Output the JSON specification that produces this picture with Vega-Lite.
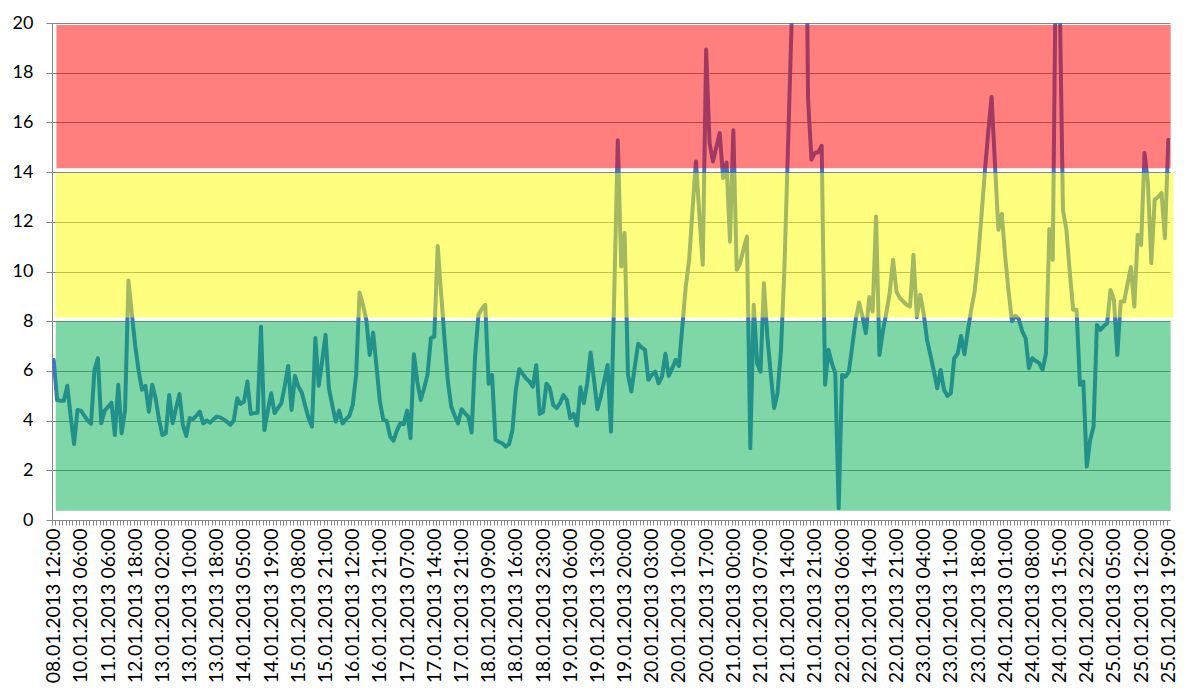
{
  "$schema": "https://vega.github.io/schema/vega-lite/v6.json",
  "width": 1118,
  "height": 497,
  "autosize": {"type": "none"},
  "padding": {"left": 52, "top": 23, "right": 23, "bottom": 175},
  "background": "white",
  "config": {"view": {"stroke": null}, "font": "Lato"},
  "datasets": {
    "series": [
      {"i":0,"v":6.44},{"i":1,"v":4.83},{"i":2,"v":4.8},{"i":3,"v":4.8},{"i":4,"v":5.4},{"i":5,"v":4.16},{"i":6,"v":3.06},{"i":7,"v":4.43},{"i":8,"v":4.4},{"i":9,"v":4.2},
      {"i":10,"v":4.0},{"i":11,"v":3.87},{"i":12,"v":6.04},{"i":13,"v":6.51},{"i":14,"v":3.89},{"i":15,"v":4.4},{"i":16,"v":4.55},{"i":17,"v":4.72},{"i":18,"v":3.42},{"i":19,"v":5.44},
      {"i":20,"v":3.49},{"i":21,"v":4.43},{"i":22,"v":9.64},{"i":23,"v":8.3},{"i":24,"v":7.0},{"i":25,"v":6.0},{"i":26,"v":5.24},{"i":27,"v":5.4},{"i":28,"v":4.36},{"i":29,"v":5.44},
      {"i":30,"v":4.9},{"i":31,"v":4.03},{"i":32,"v":3.42},{"i":33,"v":3.49},{"i":34,"v":5.03},{"i":35,"v":3.89},{"i":36,"v":4.5},{"i":37,"v":5.07},{"i":38,"v":3.83},{"i":39,"v":3.38},
      {"i":40,"v":4.1},{"i":41,"v":4.06},{"i":42,"v":4.2},{"i":43,"v":4.36},{"i":44,"v":3.89},{"i":45,"v":4.0},{"i":46,"v":3.92},{"i":47,"v":4.05},{"i":48,"v":4.16},{"i":49,"v":4.13},
      {"i":50,"v":4.05},{"i":51,"v":3.95},{"i":52,"v":3.83},{"i":53,"v":4.0},{"i":54,"v":4.9},{"i":55,"v":4.67},{"i":56,"v":4.76},{"i":57,"v":5.57},{"i":58,"v":4.27},{"i":59,"v":4.3},
      {"i":60,"v":4.32},{"i":61,"v":7.78},{"i":62,"v":3.62},{"i":63,"v":4.4},{"i":64,"v":5.1},{"i":65,"v":4.3},{"i":66,"v":4.5},{"i":67,"v":4.7},{"i":68,"v":5.4},{"i":69,"v":6.2},
      {"i":70,"v":4.43},{"i":71,"v":5.8},{"i":72,"v":5.37},{"i":73,"v":5.13},{"i":74,"v":4.6},{"i":75,"v":4.1},{"i":76,"v":3.76},{"i":77,"v":7.32},{"i":78,"v":5.4},{"i":79,"v":6.4},
      {"i":80,"v":7.45},{"i":81,"v":5.3},{"i":82,"v":4.6},{"i":83,"v":3.96},{"i":84,"v":4.4},{"i":85,"v":3.89},{"i":86,"v":4.05},{"i":87,"v":4.19},{"i":88,"v":4.63},{"i":89,"v":5.84},
      {"i":90,"v":9.15},{"i":91,"v":8.66},{"i":92,"v":8.05},{"i":93,"v":6.64},{"i":94,"v":7.54},{"i":95,"v":6.17},{"i":96,"v":4.76},{"i":97,"v":4.03},{"i":98,"v":3.99},{"i":99,"v":3.36},
      {"i":100,"v":3.19},{"i":101,"v":3.6},{"i":102,"v":3.89},{"i":103,"v":3.85},{"i":104,"v":4.4},{"i":105,"v":3.29},{"i":106,"v":6.67},{"i":107,"v":5.57},{"i":108,"v":4.83},{"i":109,"v":5.3},
      {"i":110,"v":5.84},{"i":111,"v":7.32},{"i":112,"v":7.38},{"i":113,"v":11.03},{"i":114,"v":9.13},{"i":115,"v":7.3},{"i":116,"v":5.57},{"i":117,"v":4.56},{"i":118,"v":4.2},{"i":119,"v":3.89},
      {"i":120,"v":4.46},{"i":121,"v":4.3},{"i":122,"v":4.16},{"i":123,"v":3.52},{"i":124,"v":6.58},{"i":125,"v":8.26},{"i":126,"v":8.5},{"i":127,"v":8.66},{"i":128,"v":5.48},{"i":129,"v":5.84},
      {"i":130,"v":3.22},{"i":131,"v":3.15},{"i":132,"v":3.09},{"i":133,"v":2.95},{"i":134,"v":3.05},{"i":135,"v":3.62},{"i":136,"v":5.24},{"i":137,"v":6.07},{"i":138,"v":5.88},{"i":139,"v":5.7},
      {"i":140,"v":5.57},{"i":141,"v":5.37},{"i":142,"v":6.23},{"i":143,"v":4.27},{"i":144,"v":4.35},{"i":145,"v":5.48},{"i":146,"v":5.3},{"i":147,"v":4.63},{"i":148,"v":4.5},{"i":149,"v":4.7},
      {"i":150,"v":5.03},{"i":151,"v":4.83},{"i":152,"v":4.1},{"i":153,"v":4.27},{"i":154,"v":3.8},{"i":155,"v":5.34},{"i":156,"v":4.7},{"i":157,"v":5.5},{"i":158,"v":6.74},{"i":159,"v":5.64},
      {"i":160,"v":4.46},{"i":161,"v":4.97},{"i":162,"v":5.6},{"i":163,"v":6.24},{"i":164,"v":3.56},{"i":165,"v":9.4},{"i":166,"v":15.28},{"i":167,"v":10.2},{"i":168,"v":11.55},{"i":169,"v":5.84},
      {"i":170,"v":5.17},{"i":171,"v":6.17},{"i":172,"v":7.09},{"i":173,"v":6.95},{"i":174,"v":6.85},{"i":175,"v":5.64},{"i":176,"v":5.84},{"i":177,"v":5.97},{"i":178,"v":5.5},{"i":179,"v":5.77},
      {"i":180,"v":6.69},{"i":181,"v":5.8},{"i":182,"v":6.1},{"i":183,"v":6.44},{"i":184,"v":6.2},{"i":185,"v":7.8},{"i":186,"v":9.4},{"i":187,"v":10.47},{"i":188,"v":12.5},{"i":189,"v":14.43},
      {"i":190,"v":12.3},{"i":191,"v":10.27},{"i":192,"v":18.93},{"i":193,"v":15.17},{"i":194,"v":14.43},{"i":195,"v":15.0},{"i":196,"v":15.57},{"i":197,"v":13.76},{"i":198,"v":14.39},{"i":199,"v":11.21},
      {"i":200,"v":15.68},{"i":201,"v":10.07},{"i":202,"v":10.34},{"i":203,"v":10.9},{"i":204,"v":11.41},{"i":205,"v":2.89},{"i":206,"v":8.66},{"i":207,"v":6.31},{"i":208,"v":5.97},{"i":209,"v":9.53},
      {"i":210,"v":7.4},{"i":211,"v":5.9},{"i":212,"v":4.5},{"i":213,"v":5.1},{"i":214,"v":6.78},{"i":215,"v":10.0},{"i":216,"v":14.6},{"i":217,"v":19.3},{"i":218,"v":24},{"i":219,"v":26},
      {"i":220,"v":28},{"i":221,"v":30},{"i":222,"v":16.9},{"i":223,"v":14.5},{"i":224,"v":14.77},{"i":225,"v":14.8},{"i":226,"v":15.06},{"i":227,"v":5.44},{"i":228,"v":6.85},{"i":229,"v":6.3},
      {"i":230,"v":5.9},{"i":231,"v":0.47},{"i":232,"v":5.84},{"i":233,"v":5.77},{"i":234,"v":5.97},{"i":235,"v":7.0},{"i":236,"v":8.05},{"i":237,"v":8.75},{"i":238,"v":8.19},{"i":239,"v":7.52},
      {"i":240,"v":8.97},{"i":241,"v":8.39},{"i":242,"v":12.21},{"i":243,"v":6.64},{"i":244,"v":7.6},{"i":245,"v":8.32},{"i":246,"v":9.13},{"i":247,"v":10.47},{"i":248,"v":9.19},{"i":249,"v":8.93},
      {"i":250,"v":8.8},{"i":251,"v":8.66},{"i":252,"v":8.59},{"i":253,"v":10.67},{"i":254,"v":8.16},{"i":255,"v":9.06},{"i":256,"v":8.32},{"i":257,"v":7.25},{"i":258,"v":6.64},{"i":259,"v":6.0},
      {"i":260,"v":5.3},{"i":261,"v":6.04},{"i":262,"v":5.24},{"i":263,"v":4.99},{"i":264,"v":5.1},{"i":265,"v":6.51},{"i":266,"v":6.69},{"i":267,"v":7.41},{"i":268,"v":6.67},{"i":269,"v":7.6},
      {"i":270,"v":8.46},{"i":271,"v":9.19},{"i":272,"v":10.5},{"i":273,"v":12.2},{"i":274,"v":14.0},{"i":275,"v":15.6},{"i":276,"v":17.02},{"i":277,"v":14.3},{"i":278,"v":11.68},{"i":279,"v":12.32},
      {"i":280,"v":10.6},{"i":281,"v":9.2},{"i":282,"v":8.0},{"i":283,"v":8.22},{"i":284,"v":8.08},{"i":285,"v":7.6},{"i":286,"v":7.32},{"i":287,"v":6.11},{"i":288,"v":6.51},{"i":289,"v":6.4},
      {"i":290,"v":6.31},{"i":291,"v":6.04},{"i":292,"v":6.71},{"i":293,"v":11.71},{"i":294,"v":10.47},{"i":295,"v":24},{"i":296,"v":21.5},{"i":297,"v":12.48},{"i":298,"v":11.68},{"i":299,"v":10.0},
      {"i":300,"v":8.46},{"i":301,"v":8.46},{"i":302,"v":5.44},{"i":303,"v":5.57},{"i":304,"v":2.15},{"i":305,"v":3.22},{"i":306,"v":3.76},{"i":307,"v":7.85},{"i":308,"v":7.65},{"i":309,"v":7.8},
      {"i":310,"v":7.92},{"i":311,"v":9.26},{"i":312,"v":8.86},{"i":313,"v":6.64},{"i":314,"v":8.79},{"i":315,"v":8.79},{"i":316,"v":9.5},{"i":317,"v":10.18},{"i":318,"v":8.59},{"i":319,"v":11.48},
      {"i":320,"v":11.07},{"i":321,"v":14.77},{"i":322,"v":13.56},{"i":323,"v":10.34},{"i":324,"v":12.89},{"i":325,"v":13.0},{"i":326,"v":13.16},{"i":327,"v":11.34},{"i":328,"v":15.3}
    ],
    "bands": [
      {"band":"green","lo":0.37,"hi":8.01,"from":0.59,"to":328.7},
      {"band":"yellow","lo":8.15,"hi":13.96,"from":0.5,"to":329.5},
      {"band":"red","lo":14.15,"hi":19.92,"from":0.8,"to":328.7}
    ]
  },
  "layer": [
    {
      "data": {"name": "series"},
      "mark": {"type": "line", "color": "#4472C4", "strokeWidth": 4, "clip": true, "strokeJoin": "round", "strokeCap": "round"},
      "encoding": {
        "x": {
          "field": "i", "type": "quantitative",
          "scale": {"domain": [-0.5, 328.5], "nice": false, "zero": false},
          "axis": {
            "title": null,
            "tickCount": 329,
            "tickOffset": -1.7,
            "labelOffset": 1.7,
            "tickSize": 5,
            "tickColor": "#868686",
            "domainColor": "#868686",
            "grid": false,
            "labelAngle": -90,
            "labelPadding": 3,
            "labelFontSize": 19.5,
            "labelFont": "Lato",
            "labelColor": "#000000",
            "labelOverlap": false,
            "labelFlush": false,
            "labelBound": false,
            "labelExpr": "datum.value % 8 == 0 ? ['08.01.2013 12:00','10.01.2013 06:00','11.01.2013 06:00','12.01.2013 18:00','13.01.2013 02:00','13.01.2013 10:00','13.01.2013 18:00','14.01.2013 05:00','14.01.2013 19:00','15.01.2013 08:00','15.01.2013 21:00','16.01.2013 12:00','16.01.2013 21:00','17.01.2013 07:00','17.01.2013 14:00','17.01.2013 21:00','18.01.2013 09:00','18.01.2013 16:00','18.01.2013 23:00','19.01.2013 06:00','19.01.2013 13:00','19.01.2013 20:00','20.01.2013 03:00','20.01.2013 10:00','20.01.2013 17:00','21.01.2013 00:00','21.01.2013 07:00','21.01.2013 14:00','21.01.2013 21:00','22.01.2013 06:00','22.01.2013 14:00','22.01.2013 21:00','23.01.2013 04:00','23.01.2013 11:00','23.01.2013 18:00','24.01.2013 01:00','24.01.2013 08:00','24.01.2013 15:00','24.01.2013 22:00','25.01.2013 05:00','25.01.2013 12:00','25.01.2013 19:00'][datum.value / 8] : ''"
          }
        },
        "y": {
          "field": "v", "type": "quantitative",
          "scale": {"domain": [0, 20], "nice": false},
          "axis": {
            "title": null,
            "values": [0, 2, 4, 6, 8, 10, 12, 14, 16, 18, 20],
            "grid": true,
            "gridColor": "#868686",
            "gridWidth": 1,
            "tickSize": 6,
            "tickColor": "#868686",
            "domainColor": "#868686",
            "labelPadding": 13,
            "labelFontSize": 18,
            "labelFont": "Lato",
            "labelColor": "#000000"
          }
        }
      }
    },
    {
      "data": {"name": "bands"},
      "mark": {"type": "rect", "opacity": 0.5},
      "encoding": {
        "x": {"field": "from", "type": "quantitative"},
        "x2": {"field": "to"},
        "y": {"field": "lo", "type": "quantitative"},
        "y2": {"field": "hi"},
        "color": {
          "field": "band", "type": "nominal",
          "scale": {"domain": ["green", "yellow", "red"], "range": ["#00B050", "#FFFF00", "#FF0000"]},
          "legend": null
        }
      }
    }
  ]
}
